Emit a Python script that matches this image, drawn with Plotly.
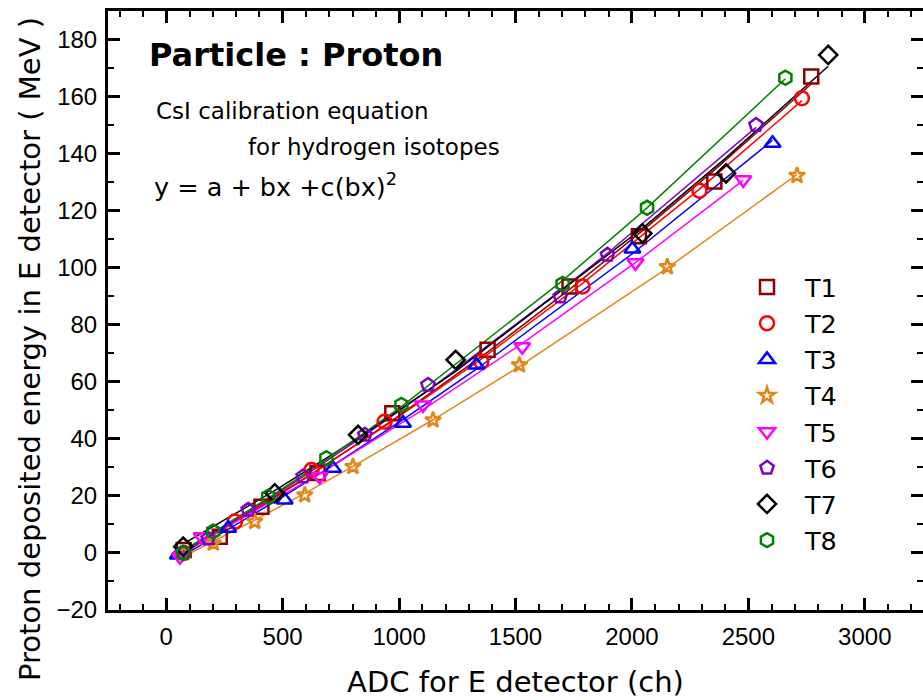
import numpy as np
import plotly.graph_objects as go

# ---- data ----
names = ["T1", "T2", "T3", "T4", "T5", "T6", "T7", "T8"]

t1_x = [75, 230, 409, 650, 971, 1380, 1732, 2030, 2354, 2770]
t1_y = [1.0, 5.7, 16.2, 28.0, 49.0, 71.2, 93.4, 111.0, 130.2, 167.0]

t2_x = [75, 295, 624, 938, 1353, 1788, 2290, 2730]
t2_y = [0.0, 11.0, 29.1, 46.0, 67.1, 93.4, 127.0, 159.4]

t3_x = [50, 266, 509, 716, 1017, 1332, 2002, 2604]
t3_y = [-0.7, 8.7, 18.6, 29.7, 45.5, 65.9, 106.6, 143.6]

t4_x = [75, 202, 380, 595, 802, 1146, 1517, 2152, 2709]
t4_y = [0.0, 3.4, 11.0, 20.3, 30.3, 46.6, 65.9, 100.3, 132.3]

t5_x = [59, 152, 659, 1103, 1529, 2015, 2478]
t5_y = [-1.3, 5.7, 26.8, 51.9, 72.3, 101.7, 130.8]

t6_x = [75, 180, 352, 588, 853, 1124, 1692, 1895, 2533]
t6_y = [0.0, 5.0, 15.1, 26.8, 41.4, 58.9, 89.9, 104.5, 150.0]

t7_x = [73, 466, 824, 1243, 2045, 2404, 2843]
t7_y = [2.2, 20.9, 41.4, 67.7, 112.0, 133.1, 174.6]

t8_x = [73, 202, 438, 688, 1010, 1702, 2065, 2659]
t8_y = [0.0, 7.5, 19.7, 33.2, 51.9, 94.3, 121.0, 166.6]

xs = [t1_x, t2_x, t3_x, t4_x, t5_x, t6_x, t7_x, t8_x]
ys = [t1_y, t2_y, t3_y, t4_y, t5_y, t6_y, t7_y, t8_y]

colors = ["#8B0000", "#FF0000", "#0000FF", "#E3861A",
          "#FF00FF", "#7F00C8", "#000000", "#008000"]
symbols = ["square-open", "circle-open", "triangle-up-open", "star-open",
           "triangle-down-open", "pentagon-open", "diamond-open", "hexagon-open"]
sizes = [14, 14, 14, 12, 14, 14, 14, 14]

fig = go.Figure()

# fitted calibration curves y = a + bx + c(bx)^2 (quadratic fit of the read points)
for x, y, c in zip(xs, ys, colors):
    xa = np.array(x, dtype=float)
    coef = np.polyfit(xa, np.array(y, dtype=float), 2)
    fig.add_trace(go.Scatter(x=xa, y=np.polyval(coef, xa), mode="lines",
                             line=dict(color=c, width=1.5),
                             showlegend=False, hoverinfo="skip"))

for x, y, c, s, sz, n in zip(xs, ys, colors, symbols, sizes, names):
    fig.add_trace(go.Scatter(x=x, y=y, mode="markers", name=n,
                             marker=dict(symbol=s, size=sz, color=c,
                                         line=dict(color=c, width=2.5))))

axis_font = "DejaVu Sans, Liberation Sans, sans-serif"
tick_font = dict(family="Liberation Sans, Arial, sans-serif", size=24, color="black")

W, H = 923, 700
L, T, R, B = 108, 11, 0, 90
PW, PH = W - L - R, H - T - B


def px(xp):
    return (xp - L) / PW


def py(yp):
    return (H - B - yp) / PH


fig.update_layout(
    width=W, height=H,
    margin=dict(l=L, r=R, t=T, b=B, pad=0),
    paper_bgcolor="white", plot_bgcolor="white",
    font=dict(family=axis_font, color="black"),
    showlegend=True,
    legend=dict(x=px(729), y=py(264), xanchor="left", yanchor="top",
                font=dict(family=axis_font, size=25.5, color="black"),
                bgcolor="rgba(0,0,0,0)", itemwidth=66),
    xaxis=dict(range=[-250, 3250], tick0=0, dtick=500, automargin=False,
               ticks="inside", ticklen=12, tickwidth=2.5, tickcolor="black",
               minor=dict(ticks="inside", dtick=100, tick0=0, ticklen=6,
                          tickwidth=2, tickcolor="black"),
               showline=True, linewidth=3, linecolor="black", mirror="ticks",
               showgrid=False, zeroline=False,
               tickfont=tick_font, ticklabelstandoff=3,
               title=dict(text="ADC for E detector (ch)",
                          font=dict(family=axis_font, size=29), standoff=23)),
    yaxis=dict(range=[-20, 190], tick0=0, dtick=20, automargin=False,
               ticks="inside", ticklen=12, tickwidth=2.5, tickcolor="black",
               minor=dict(ticks="inside", dtick=10, tick0=0, ticklen=6,
                          tickwidth=2, tickcolor="black"),
               showline=True, linewidth=3, linecolor="black", mirror="ticks",
               showgrid=False, zeroline=False,
               tickfont=tick_font, ticklabelstandoff=3),
)

# y axis title placed as rotated text (it is centred lower than the plot area)
fig.add_annotation(xref="paper", yref="paper", x=px(30), y=py(349),
                   xanchor="center", yanchor="middle", showarrow=False, textangle=-90,
                   text="Proton deposited energy in E detector ( MeV )",
                   font=dict(family=axis_font, size=29, color="black"))

fig.add_annotation(xref="paper", yref="paper", x=px(147), y=py(55),
                   xanchor="left", yanchor="middle", showarrow=False,
                   text="<b>Particle : Proton</b>",
                   font=dict(family="DejaVu Sans", size=32, color="black"))
fig.add_annotation(xref="paper", yref="paper", x=px(154), y=py(111),
                   xanchor="left", yanchor="middle", showarrow=False,
                   text="CsI calibration equation",
                   font=dict(family=axis_font, size=23, color="black"))
fig.add_annotation(xref="paper", yref="paper", x=px(246), y=py(147),
                   xanchor="left", yanchor="middle", showarrow=False,
                   text="for hydrogen isotopes",
                   font=dict(family=axis_font, size=23, color="black"))
fig.add_annotation(xref="paper", yref="paper", x=px(152), y=py(185),
                   xanchor="left", yanchor="middle", showarrow=False,
                   text="y = a + bx +c(bx)<sup>2</sup>",
                   font=dict(family=axis_font, size=25.5, color="black"))

# remove the default page margin so the figure sits at the window's top-left corner
fig.write_html("out.html",
               config={"displayModeBar": False},
               post_script="document.body.style.margin='0px';document.body.style.overflow='hidden';")
